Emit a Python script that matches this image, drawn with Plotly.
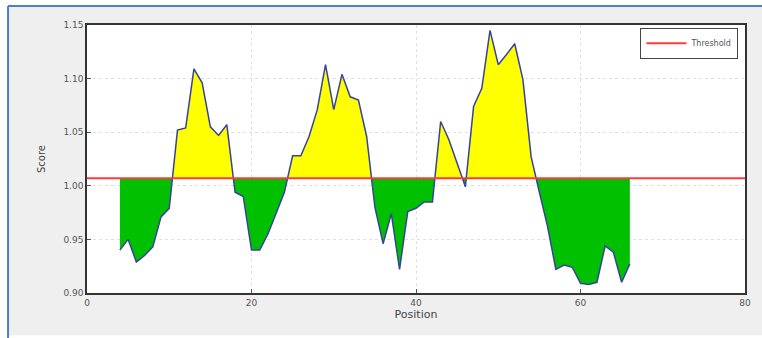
import numpy as np
import plotly.graph_objects as go

positions = list(range(4, 67))
scores = [0.940, 0.950, 0.929, 0.935, 0.943, 0.971, 0.979, 1.052, 1.054, 1.109,
          1.096, 1.055, 1.047, 1.057, 0.994, 0.990, 0.940, 0.940, 0.955, 0.974,
          0.994, 1.028, 1.028, 1.046, 1.071, 1.113, 1.071, 1.104, 1.083, 1.080,
          1.046, 0.980, 0.946, 0.974, 0.922, 0.976, 0.979, 0.985, 0.985, 1.060,
          1.043, 1.021, 0.999, 1.074, 1.091, 1.145, 1.113, 1.1225, 1.1325, 1.099,
          1.027, 0.994, 0.962, 0.922, 0.926, 0.924, 0.909, 0.908, 0.910, 0.944,
          0.938, 0.910, 0.927]
threshold = 1.007
x_ticks = [0, 20, 40, 60, 80]
y_ticks = [0.90, 0.95, 1.00, 1.05, 1.10, 1.15]

# densify with threshold crossings so fills split cleanly
xs, ys = [], []
for i in range(len(positions)):
    if i > 0:
        y0, y1 = scores[i - 1], scores[i]
        if (y0 - threshold) * (y1 - threshold) < 0:
            t = (threshold - y0) / (y1 - y0)
            xs.append(positions[i - 1] + t * (positions[i] - positions[i - 1]))
            ys.append(threshold)
    xs.append(positions[i])
    ys.append(scores[i])
xs = np.array(xs)
ys = np.array(ys)
base = np.full_like(ys, threshold)

fig = go.Figure()
fig.add_trace(go.Scatter(x=xs, y=base, mode="lines", line=dict(width=0), showlegend=False, hoverinfo="skip"))
fig.add_trace(go.Scatter(x=xs, y=np.maximum(ys, threshold), mode="lines", line=dict(width=0),
                         fill="tonexty", fillcolor="#ffff00", showlegend=False, hoverinfo="skip"))
fig.add_trace(go.Scatter(x=xs, y=base, mode="lines", line=dict(width=0), showlegend=False, hoverinfo="skip"))
fig.add_trace(go.Scatter(x=xs, y=np.minimum(ys, threshold), mode="lines", line=dict(width=0),
                         fill="tonexty", fillcolor="#00c000", showlegend=False, hoverinfo="skip"))
fig.add_trace(go.Scatter(x=positions, y=scores, mode="lines", line=dict(color="#34449a", width=1.5),
                         showlegend=False))
fig.add_trace(go.Scatter(x=[0, 80], y=[threshold, threshold], mode="lines",
                         line=dict(color="#ff3b3b", width=2), name="Threshold"))

axis_common = dict(showline=True, linecolor="#333333", linewidth=1.5, mirror=True,
                   ticks="inside", ticklen=4, tickcolor="#555555",
                   showgrid=True, gridcolor="#e0e0e0", griddash="dot", gridwidth=1,
                   zeroline=False, tickfont=dict(family="DejaVu Sans", size=9, color="#555555"))

fig.update_layout(
    width=762, height=338,
    margin=dict(l=87, r=17, t=25, b=45),
    paper_bgcolor="#efefef",
    plot_bgcolor="white",
    xaxis=dict(range=[0, 80], tickvals=x_ticks,
               title=dict(text="Position", font=dict(family="DejaVu Sans", size=11, color="#444444"), standoff=4),
               **axis_common),
    yaxis=dict(range=[0.90, 1.15], tickvals=y_ticks, tickformat=".2f",
               title=dict(text="Score", font=dict(family="DejaVu Sans", size=10, color="#444444"), standoff=16),
               **axis_common),
    legend=dict(x=0.99, y=0.99, xanchor="right", yanchor="top", bgcolor="white",
                bordercolor="#444444", borderwidth=1, itemwidth=40,
                font=dict(family="DejaVu Sans", size=8, color="#555555")),
    shapes=[
        dict(type="rect", xref="paper", yref="paper", x0=-0.2, x1=1.1, y0=1.071, y1=1.2,
             fillcolor="white", line=dict(width=0), layer="above"),
        dict(type="rect", xref="paper", yref="paper", x0=-0.2, x1=-0.12, y0=-0.3, y1=1.2,
             fillcolor="white", line=dict(width=0), layer="above"),
        dict(type="rect", xref="paper", yref="paper", x0=-0.2, x1=1.1, y0=-0.3, y1=-0.158,
             fillcolor="white", line=dict(width=0), layer="above"),
        dict(type="line", xref="paper", yref="paper", x0=-0.12, x1=1.1, y0=1.071, y1=1.071,
             line=dict(color="#4a7fd0", width=2), layer="above"),
        dict(type="line", xref="paper", yref="paper", x0=-0.12, x1=-0.12, y0=-0.3, y1=1.071,
             line=dict(color="#4a7fd0", width=2), layer="above"),
    ],
)

fig.write_html("out.html", config={"displayModeBar": False},
               post_script="document.body.style.margin='0';document.body.style.overflow='hidden';")
